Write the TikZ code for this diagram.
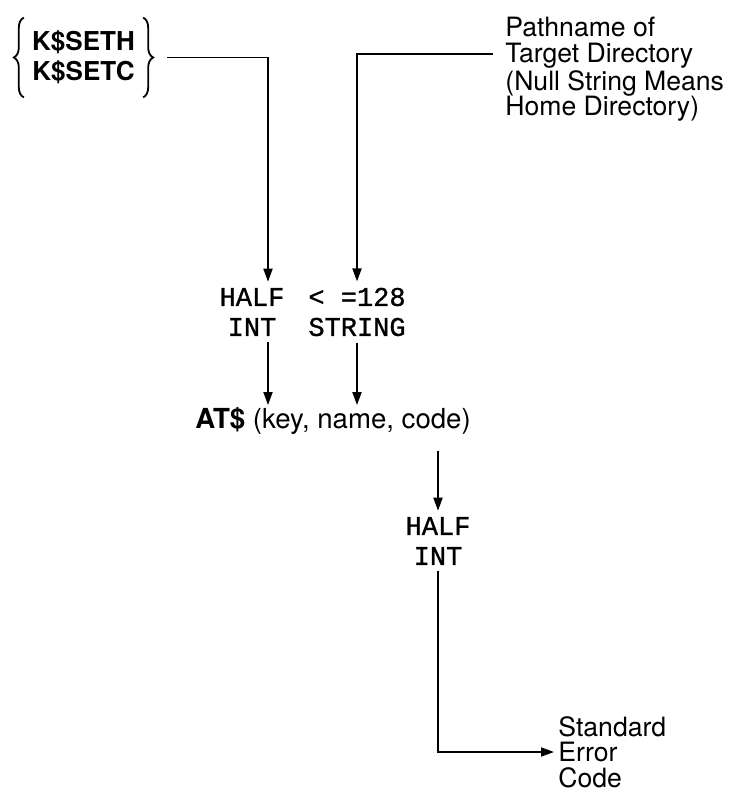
\documentclass[tikz,border=0pt]{standalone}
\usepackage{fontspec}
\setsansfont{TeX Gyre Heros}
\setmonofont[FakeBold=1]{Liberation Mono}
\usetikzlibrary{arrows.meta,positioning,calc,decorations.pathreplacing}
\tikzset{
  lbl/.style={font=\sffamily\fontsize{13.3}{12.8}\selectfont,align=left,
    inner xsep=6pt,inner ysep=2pt},
  keybox/.style={font=\sffamily\bfseries\fontsize{13}{15}\selectfont,align=center,
    inner xsep=4pt,inner ysep=0pt,minimum height=39.5pt},
  bracket/.style={decorate,decoration={brace,amplitude=5pt},line width=0.9pt},
  typebox/.style={font=\ttfamily\fontsize{13.5}{15}\selectfont,align=center,inner sep=3pt},
  callbox/.style={font=\sffamily\fontsize{13.8}{15}\selectfont,inner sep=1pt},
  flowarrow/.style={-{Triangle[length=6.5pt,width=4.5pt]},line width=0.9pt}
}
\begin{document}
\begin{tikzpicture}[x=0.5pt,y=-0.5pt]
  \useasboundingbox (0,0) rectangle (732,796);
  \node[keybox] (keys) at (83.5,57.5) {K\$SETH\\K\$SETC};
  \draw[bracket] (keys.south west) -- (keys.north west);
  \draw[bracket] (keys.north east) -- (keys.south east);
  \node[lbl,anchor=north west] (path) at (493,13)
    {Pathname of\\Target Directory\\(Null String Means\\Home Directory)};
  \node[typebox] (keytype) at (252,312) {HALF\\INT};
  \node[typebox] (strtype) at (357,312) {< =128\\STRING};
  \node[callbox] (call) at (333,421) {\textbf{AT\$} (key, name, code)};
  \node[typebox] (codetype) at (438,541) {HALF\\INT};
  \node[lbl,anchor=west] (errtext) at (546,752) {Standard\\Error\\Code};
  % inputs
  \draw[flowarrow] ([xshift=12pt]keys.east) -| ([xshift=8pt]keytype.north);
  \draw[flowarrow] (path.west |- 0,54) -| (strtype.north);
  \draw[flowarrow] ([xshift=8pt]keytype.south) -- ([xshift=8pt]keytype.south |- call.north);
  \draw[flowarrow] (strtype.south) -- (strtype.south |- call.north);
  % output
  \draw[flowarrow,shorten <=7pt] (codetype.north |- call.south) -- (codetype.north);
  \draw[flowarrow,shorten >=-4pt] (codetype.south) |- (errtext.west);
\end{tikzpicture}
\end{document}
